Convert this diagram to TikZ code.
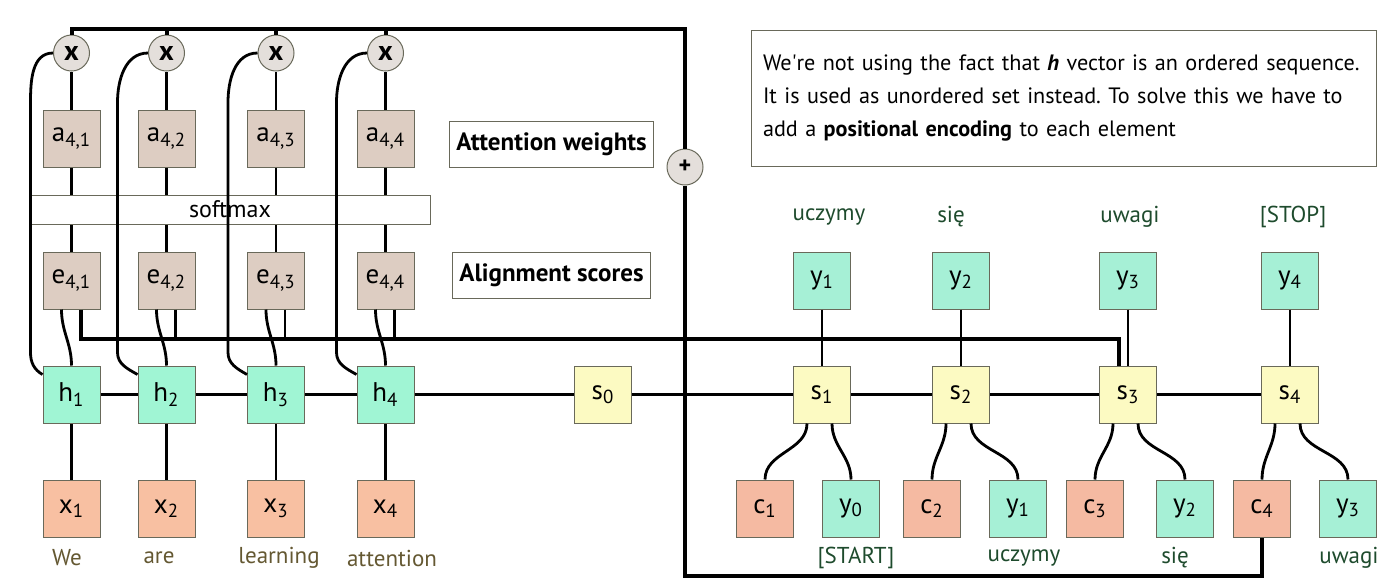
\documentclass[tikz,border=0pt]{standalone}
\usepackage{fontspec}
\setmainfont{PT Sans}

\definecolor{weightfill}{RGB}{221,205,194}
\definecolor{hiddenfill}{RGB}{160,245,212}
\definecolor{inputfill}{RGB}{248,192,162}
\definecolor{statefill}{RGB}{252,250,194}
\definecolor{contextfill}{RGB}{245,186,162}
\definecolor{outputfill}{RGB}{166,240,214}
\definecolor{opfill}{RGB}{228,223,219}
\definecolor{boxline}{RGB}{105,105,90}
\definecolor{srccolor}{RGB}{100,88,50}
\definecolor{tgtcolor}{RGB}{30,75,45}

\begin{document}
\frenchspacing
\begin{tikzpicture}[x = 0.5pt, y = -0.5pt, font = \fontsize{11.5}{13}\selectfont,
	cell/.style = {draw = boxline, line width = 0.5pt, minimum size = 28.5pt, inner sep = 0pt, font = \fontsize{13.5}{15}\selectfont},
	op/.style = {circle, draw = boxline, line width = 0.5pt, fill = opfill, minimum size = 18pt, inner sep = 0pt},
	tag/.style = {draw = boxline, line width = 0.5pt, fill = white, minimum width = 97.5pt, minimum height = 23pt, font = \bfseries\fontsize{12.5}{14}\selectfont},
	link/.style = {line width = 1.4pt},
	wire/.style = {line width = 2pt},
	srcword/.style = {text = srccolor},
	tgtword/.style = {text = tgtcolor}]

	\useasboundingbox (0, 0) rectangle (1400, 586);

	% Encoder columns
	
	\node [draw = boxline, line width = 0.5pt, fill = white, minimum width = 200pt, minimum height = 14.5pt, inner sep = 0pt, font = \fontsize{12}{14}\selectfont] (softmax) at (230, 209.5) {softmax};
	
	\foreach \i/\x in {1/71.5, 2/166.5, 3/276, 4/385.5} {
		\node [op, font = \bfseries\fontsize{14}{16}\selectfont] (m\i) at (\x, 53) {x};
		\node [cell, fill = weightfill] (a\i) at (\x, 138.5) {a\textsubscript{4,\i}};
		\node [cell, fill = weightfill] (e\i) at (\x, 280.5) {e\textsubscript{4,\i}};
		\node [cell, fill = hiddenfill] (h\i) at (\x, 394.5) {h\textsubscript{\i}};
		\node [cell, fill = inputfill] (x\i) at (\x, 508.5) {x\textsubscript{\i}};
	}
	
	\node [srcword] (src1) at (67, 558) {We};
	\node [srcword] (src2) at (159, 558) {are};
	\node [srcword] (src3) at (279, 558) {learning};
	\node [srcword] (src4) at (392, 558) {attention};
	
	\node [tag] (weights) at (551.5, 144) {Attention weights};
	\node [tag] (scores) at (551.5, 275) {Alignment scores};
	
	\node [op, font = \bfseries\fontsize{12}{14}\selectfont] (plus) at (685, 167) {+};
	
	% Note
	
	\node [draw = boxline, line width = 0.5pt, text width = 300.5pt, minimum height = 68pt, inner sep = 6pt, align = left, font = \fontsize{11.1}{16.5}\selectfont] (note) at (1063.5, 98)
		{We\textquotesingle re not using the fact that \textbf{\textit{h}} vector is an ordered sequence.\\
		It is used as unordered set instead. To solve this we have to\\
		add a \textbf{positional encoding} to each element};
	
	% Decoder columns
	
	\node [cell, fill = statefill] (s0) at (603, 394.5) {s\textsubscript{0}};
	
	\foreach \i/\p/\x/\c/\y in {1/0/822/765/851, 2/1/961/932/1018, 3/2/1128/1095/1185, 4/3/1290/1262/1348} {
		\node [cell, fill = outputfill] (yt\i) at (\x, 280.5) {y\textsubscript{\i}};
		\node [cell, fill = statefill] (s\i) at (\x, 394.5) {s\textsubscript{\i}};
		\node [cell, fill = contextfill] (c\i) at (\c, 508.5) {c\textsubscript{\i}};
		\node [cell, fill = outputfill] (yb\i) at (\y, 508.5) {y\textsubscript{\p}};
	}
	
	\node [tgtword] (out1) at (829, 217) {uczymy};
	\node [tgtword] (out2) at (951, 217) {się};
	\node [tgtword] (out3) at (1130, 217) {uwagi};
	\node [tgtword] (out4) at (1293, 217) {[STOP]};
	
	\node [tgtword] (in1) at (856, 558) {[START]};
	\node [tgtword] (in2) at (1024, 558) {uczymy};
	\node [tgtword] (in3) at (1175, 558) {się};
	\node [tgtword] (in4) at (1349, 558) {uwagi};
	
	% Connections
	
	\coordinate (topright) at (685, 29);
	\coordinate (botleft) at (685, 576);
	
	\draw [link] (h1) -- (h2) -- (h3) -- (h4) -- (s0) -- (s1) -- (s2) -- (s3) -- (s4);
	
	\foreach \i/\d in {1/12, 2/20, 3/19, 4/20} {
		\draw [link] (x\i) -- (h\i);
		\draw [link] (h\i.north) to [out = 90, in = -90] ([xshift = -5pt] e\i.south);
		\draw [link] (e\i.north) -- (e\i.north |- softmax.south);
		\draw [link] (a\i.south) -- (a\i.south |- softmax.north);
		\draw [link] (a\i) -- (m\i);
		\draw [link] ([yshift = -4.5pt] h\i.north west) to [out = 150, in = -90] ++(-\d, -22) -- ++(0, -250) to [out = 90, in = 180] (m\i.west);
	}
	
	\draw [wire] (m1.north) |- (topright) -- (plus.north);
	\foreach \i in {2, 3, 4}
		\draw [wire] (m\i.north) -- (m\i.north |- topright);
	\draw [wire] (plus.south) -- (botleft) -| (c4.south);
	
	\draw [wire] ([xshift = 4.5pt] e1.south) -- ++(0, 29) -| ([xshift = -4.5pt] s3.north);
	\foreach \i in {2, 3, 4}
		\draw [link] ([xshift = 4.5pt] e\i.south) -- ++(0, 29);
	
	\foreach \i in {1, 2, 3, 4} {
		\draw [link] (yt\i) -- (s\i);
		\draw [link] ([xshift = -7.5pt] s\i.south) to [out = -90, in = 90] (c\i.north);
		\draw [link] ([xshift = 5pt] s\i.south) to [out = -90, in = 90] (yb\i.north);
	}

\end{tikzpicture}
\end{document}
